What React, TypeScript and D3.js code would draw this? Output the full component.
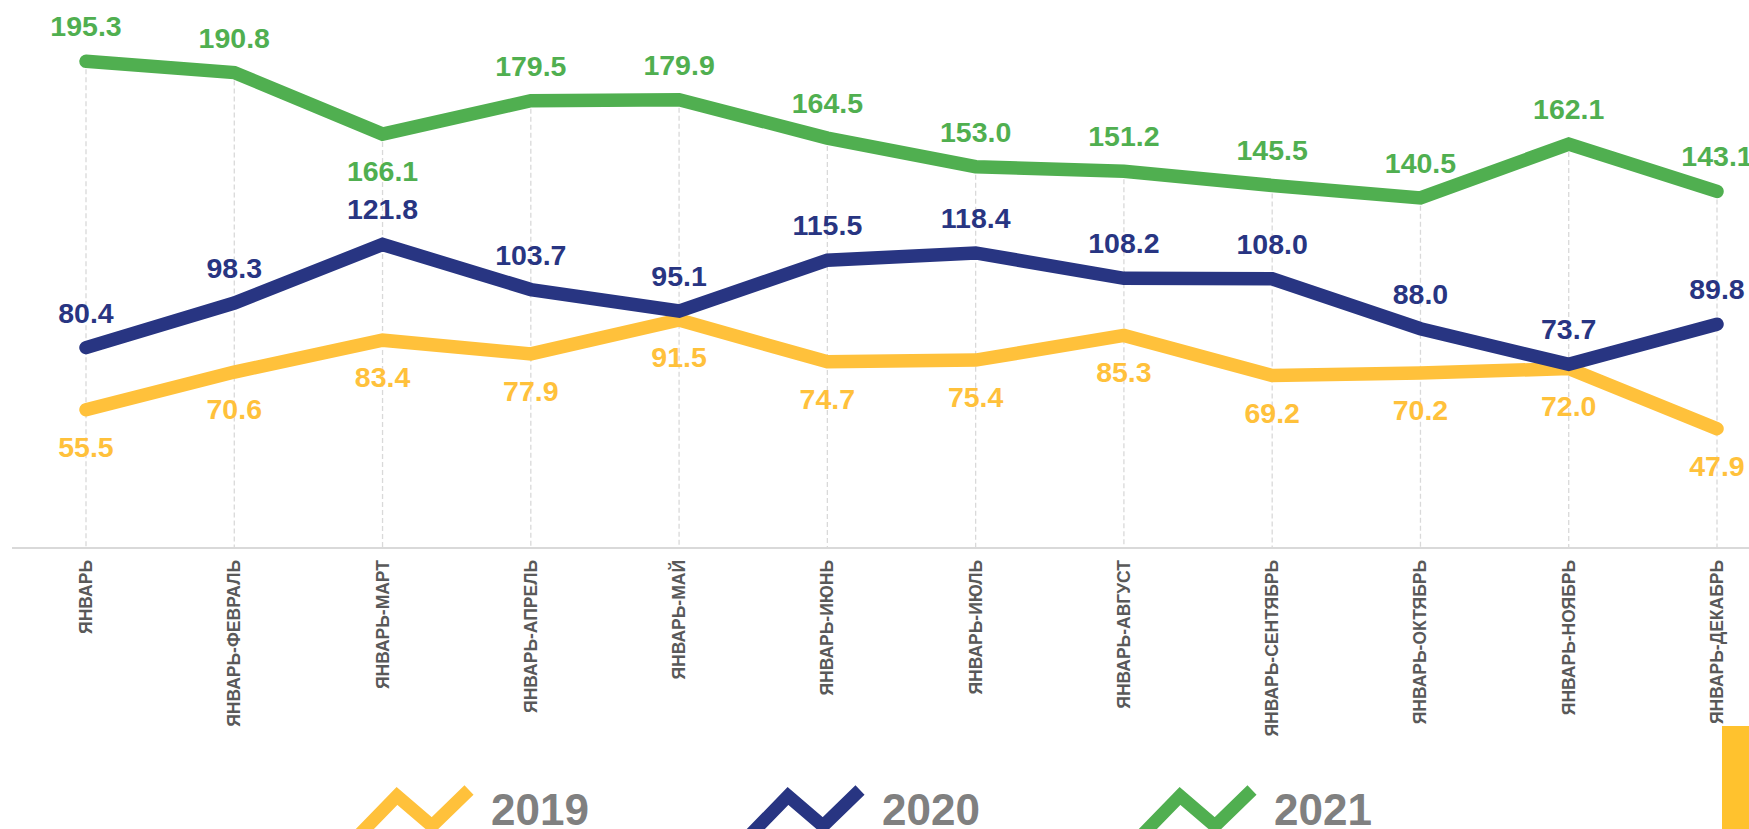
import React from "react";
import * as d3 from "d3";

const categories = [
  "ЯНВАРЬ",
  "ЯНВАРЬ-ФЕВРАЛЬ",
  "ЯНВАРЬ-МАРТ",
  "ЯНВАРЬ-АПРЕЛЬ",
  "ЯНВАРЬ-МАЙ",
  "ЯНВАРЬ-ИЮНЬ",
  "ЯНВАРЬ-ИЮЛЬ",
  "ЯНВАРЬ-АВГУСТ",
  "ЯНВАРЬ-СЕНТЯБРЬ",
  "ЯНВАРЬ-ОКТЯБРЬ",
  "ЯНВАРЬ-НОЯБРЬ",
  "ЯНВАРЬ-ДЕКАБРЬ",
];

const values2019 = [55.5, 70.6, 83.4, 77.9, 91.5, 74.7, 75.4, 85.3, 69.2, 70.2, 72.0, 47.9];
const values2020 = [80.4, 98.3, 121.8, 103.7, 95.1, 115.5, 118.4, 108.2, 108.0, 88.0, 73.7, 89.8];
const values2021 = [195.3, 190.8, 166.1, 179.5, 179.9, 164.5, 153.0, 151.2, 145.5, 140.5, 162.1, 143.1];

// label placement: "a" = above, "b" = below
const labelPos2019 = ["b", "b", "b", "b", "b", "b", "b", "b", "b", "b", "b", "b"];
const labelPos2020 = ["a", "a", "a", "a", "a", "a", "a", "a", "a", "a", "a", "a"];
const labelPos2021 = ["a", "a", "b", "a", "a", "a", "a", "a", "a", "a", "a", "a"];

const seriesNames = ["2019", "2020", "2021"];

const COLORS = ["#FFC13B", "#283582", "#50AF50"];
const FONT = "'Liberation Sans', Arial, sans-serif";

const W = 1749;
const H = 829;

export default function App() {
  const series = [
    { name: seriesNames[0], values: values2019, pos: labelPos2019, color: COLORS[0] },
    { name: seriesNames[1], values: values2020, pos: labelPos2020, color: COLORS[1] },
    { name: seriesNames[2], values: values2021, pos: labelPos2021, color: COLORS[2] },
  ];

  const x = d3.scalePoint<string>().domain(categories).range([86, 1717]);
  const y = d3.scaleLinear().domain([0, 200]).range([548, 548 - 200 * 2.492]);

  const line = d3
    .line<number>()
    .x((_, i) => x(categories[i]) as number)
    .y((d) => y(d));

  const maxes = categories.map((_, i) => Math.max(values2019[i], values2020[i], values2021[i]));

  const legendX = [357, 748, 1140];

  return (
    <svg
      width={W}
      height={H}
      style={{ position: "absolute", left: 0, top: 0, display: "block", background: "#fff" }}
    >
      {/* drop lines */}
      {categories.map((c, i) => (
        <line
          key={"drop" + i}
          x1={x(c)}
          x2={x(c)}
          y1={y(maxes[i])}
          y2={y(0)}
          stroke="#D9D9D9"
          strokeWidth={1.3}
          strokeDasharray="5,3"
        />
      ))}
      {/* axis */}
      <line x1={12} x2={W} y1={y(0)} y2={y(0)} stroke="#D9D9D9" strokeWidth={2} />

      {/* category labels */}
      {categories.map((c) => (
        <text
          key={"cat" + c}
          transform={`translate(${x(c)},560) rotate(-90)`}
          textAnchor="end"
          dominantBaseline="central"
          fontFamily={FONT}
          fontWeight="bold"
          fontSize={17.5}
          fill="#595959"
        >
          {c}
        </text>
      ))}

      {/* lines */}
      {series.map((s) => (
        <path
          key={"line" + s.name}
          d={line(s.values) || ""}
          fill="none"
          stroke={s.color}
          strokeWidth={13.5}
          strokeLinecap="round"
          strokeLinejoin="miter"
        />
      ))}

      {/* data labels */}
      {series.map((s) =>
        s.values.map((v, i) => (
          <text
            key={"lbl" + s.name + i}
            x={x(categories[i])}
            y={s.pos[i] === "a" ? y(v) - 25 : y(v) + 47}
            textAnchor="middle"
            fontFamily={FONT}
            fontWeight="bold"
            fontSize={28.5}
            fill={s.color}
          >
            {v.toFixed(1)}
          </text>
        ))
      )}

      {/* legend */}
      {series.map((s, k) => {
        const x0 = legendX[k];
        const pts = [
          [x0 + 3, 834],
          [x0 + 40, 796],
          [x0 + 75, 826],
          [x0 + 112, 790],
        ];
        return (
          <g key={"leg" + s.name}>
            <polyline
              points={pts.map((p) => p.join(",")).join(" ")}
              fill="none"
              stroke={s.color}
              strokeWidth={13}
              strokeLinecap="butt"
              strokeLinejoin="miter"
            />
            <text
              x={x0 + 134}
              y={825}
              fontFamily={FONT}
              fontWeight="bold"
              fontSize={44}
              fill="#808080"
            >
              {s.name}
            </text>
          </g>
        );
      })}

      {/* corner accent */}
      <rect x={1722} y={726} width={W - 1722} height={H - 726} fill="#FFC22E" />
    </svg>
  );
}
